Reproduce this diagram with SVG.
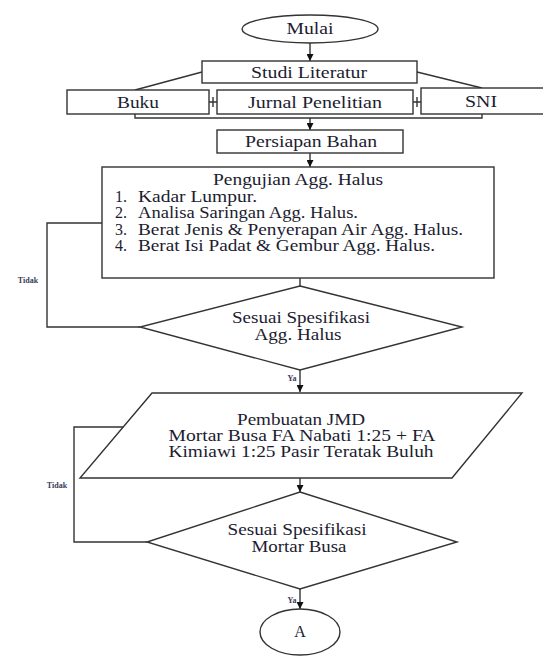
<svg xmlns="http://www.w3.org/2000/svg" width="543" height="656" viewBox="0 0 543 656">
<style>
.s{fill:#fff;stroke:#333;stroke-width:1.4}
.t{font-family:"Liberation Serif","Times New Roman",serif;font-size:16px;fill:#1c1c30;text-anchor:middle}
.l{text-anchor:start}
.sm{font-family:"Liberation Serif","Times New Roman",serif;font-size:8px;font-weight:bold;fill:#3a3a5a;text-anchor:middle}
.c{fill:none;stroke:#333;stroke-width:1.4}
</style>
<defs>
<marker id="ah" viewBox="0 0 10 10" refX="10" refY="5" markerWidth="7" markerHeight="7" markerUnits="userSpaceOnUse" orient="auto">
<path d="M0,0 L10,5 L0,10 z" fill="#111"/>
</marker>
</defs>
<rect width="543" height="656" fill="#fff"/>
<g id="connectors">
<path class="c" d="M310,43 V61" marker-end="url(#ah)"/>
<path class="c" d="M202,72 L135,90"/>
<path class="c" d="M417,72 L482,88"/>
<path class="c" d="M209,102 H217 M213,97 V107"/>
<path class="c" d="M413,102 H421 M417,97 V107"/>
<path class="c" d="M135,114 V118 H482 V114"/>
<path class="c" d="M310,118 V130" marker-end="url(#ah)"/>
<path class="c" d="M310,153 V167" marker-end="url(#ah)"/>
<path class="c" d="M300,278 V286"/>
<path class="c" d="M102,223 H47 V327 H140"/>
<path class="c" d="M300,370 V392" marker-end="url(#ah)"/>
<path class="c" d="M123,427 H74 V542 H147"/>
<path class="c" d="M300,478 V492" marker-end="url(#ah)"/>
<path class="c" d="M300,589 V609" marker-end="url(#ah)"/>
<text class="sm" x="28" y="283">Tidak</text>
<text class="sm" x="57" y="488">Tidak</text>
<text class="sm" x="292" y="381">Ya</text>
<text class="sm" x="292" y="603">Ya</text>
</g>
<g id="mulai">
<ellipse class="s" cx="310" cy="29" rx="68" ry="14"/>
<text class="t" x="310" y="34" textLength="47" lengthAdjust="spacingAndGlyphs">Mulai</text>
</g>
<g id="studi">
<rect class="s" x="202" y="61" width="215" height="22"/>
<text class="t" x="309" y="78" textLength="116" lengthAdjust="spacingAndGlyphs">Studi Literatur</text>
</g>
<g id="buku">
<rect class="s" x="67" y="90" width="142" height="24"/>
<text class="t" x="138" y="108" textLength="42" lengthAdjust="spacingAndGlyphs">Buku</text>
</g>
<g id="jurnal">
<rect class="s" x="217" y="90" width="196" height="24"/>
<text class="t" x="315" y="108" textLength="134" lengthAdjust="spacingAndGlyphs">Jurnal Penelitian</text>
</g>
<g id="sni">
<rect class="s" x="421" y="88" width="126" height="26"/>
<text class="t" x="481" y="107" textLength="32" lengthAdjust="spacingAndGlyphs">SNI</text>
</g>
<g id="persiapan">
<rect class="s" x="217" y="130" width="186" height="23"/>
<text class="t" x="311" y="147" textLength="132" lengthAdjust="spacingAndGlyphs">Persiapan Bahan</text>
</g>
<g id="pengujian">
<rect class="s" x="102" y="167" width="392" height="111"/>
<text class="t" x="298" y="185" textLength="170" lengthAdjust="spacingAndGlyphs">Pengujian Agg. Halus</text>
<text class="t l" x="115" y="202">1.</text>
<text class="t l" x="138" y="202" textLength="119" lengthAdjust="spacingAndGlyphs">Kadar Lumpur.</text>
<text class="t l" x="115" y="218">2.</text>
<text class="t l" x="138" y="218" textLength="220" lengthAdjust="spacingAndGlyphs">Analisa Saringan Agg. Halus.</text>
<text class="t l" x="115" y="234.5">3.</text>
<text class="t l" x="138" y="234.5" textLength="325" lengthAdjust="spacingAndGlyphs">Berat Jenis &amp; Penyerapan Air Agg. Halus.</text>
<text class="t l" x="115" y="251">4.</text>
<text class="t l" x="138" y="251" textLength="297" lengthAdjust="spacingAndGlyphs">Berat Isi Padat &amp; Gembur Agg. Halus.</text>
</g>
<g id="cek-agg">
<path class="s" d="M300,286 L462,327 L300,370 L140,327 Z"/>
<text class="t" x="301" y="323" textLength="138" lengthAdjust="spacingAndGlyphs">Sesuai Spesifikasi</text>
<text class="t" x="298" y="340" textLength="87" lengthAdjust="spacingAndGlyphs">Agg. Halus</text>
</g>
<g id="jmd">
<path class="s" d="M152,393 L522,393 L452,478 L80,478 Z"/>
<text class="t" x="301" y="425" textLength="128" lengthAdjust="spacingAndGlyphs">Pembuatan JMD</text>
<text class="t" x="302" y="441" textLength="267" lengthAdjust="spacingAndGlyphs">Mortar Busa FA Nabati 1:25 + FA</text>
<text class="t" x="301" y="457" textLength="265" lengthAdjust="spacingAndGlyphs">Kimiawi 1:25 Pasir Teratak Buluh</text>
</g>
<g id="cek-mortar">
<path class="s" d="M300,492 L457,542 L300,589 L147,542 Z"/>
<text class="t" x="297" y="535" textLength="139" lengthAdjust="spacingAndGlyphs">Sesuai Spesifikasi</text>
<text class="t" x="299" y="552" textLength="95" lengthAdjust="spacingAndGlyphs">Mortar Busa</text>
</g>
<g id="a">
<ellipse class="s" cx="300" cy="632" rx="40" ry="23"/>
<text class="t" x="300" y="637">A</text>
</g>
</svg>
